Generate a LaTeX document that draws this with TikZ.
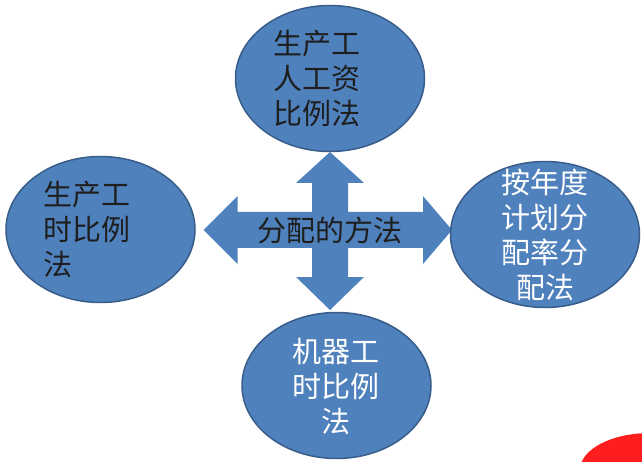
\documentclass[tikz,border=0pt]{standalone}
\usepackage{fontspec}
\newfontfamily\cjk{Noto Sans CJK SC}
\usetikzlibrary{shapes.geometric}
\definecolor{ofill}{HTML}{4F81BD}
\definecolor{oline}{HTML}{385D8A}
\definecolor{dtext}{HTML}{1E1E1E}
\definecolor{redblob}{HTML}{FF1E1E}
\tikzset{
  blob/.style={ellipse, draw=oline, line width=1.5pt, fill=ofill, inner sep=0pt,
               minimum width=189pt, minimum height=146pt},
  label/.style={inner sep=0pt, font=\cjk\fontsize{29}{35}\selectfont},
  quad/.style={fill=ofill, draw=none}
}
\begin{document}
\begin{tikzpicture}[x=1pt,y=-1pt]
\useasboundingbox (0,0) rectangle (642,462);
\clip (0,0) rectangle (642,462);
% quad arrow
\path[quad] (330,152) -- (364,183) -- (348,183) -- (348,212) -- (423,212) -- (423,196)
  -- (452,230) -- (423,264) -- (423,248) -- (348,248) -- (348,277) -- (364,277)
  -- (330,310) -- (296,277) -- (312,277) -- (312,248) -- (237.5,248) -- (237.5,264)
  -- (203.5,230) -- (237.5,196) -- (237.5,212) -- (312,212) -- (312,183) -- (296,183) -- cycle;
% ellipses
\node[blob] (top) at (330,78.5) {};
\node[blob] (left) at (100.5,229.5) {};
\node[blob] (right) at (545,234.5) {};
\node[blob] (bottom) at (336.5,385.5) {};
% texts
\node[label, text=dtext, align=center] (ttop) at (317,78) {生产工\\人工资\\比例法};
\node[label, text=dtext, align=left, anchor=west] (tleft) at (43,229.5) {生产工\\时比例\\法};
\node[label, text=white, align=center] (tright) at (545,234.5) {按年度\\计划分\\配率分\\配法};
\node[label, text=white, align=center] (tbottom) at (336,386) {机器工\\时比例\\法};
\node[label, text=dtext] (center) at (330,230) {分配的方法};
% red mark at the corner
\fill[redblob] (650,470) ellipse [x radius=70, y radius=37];
\end{tikzpicture}
\end{document}
